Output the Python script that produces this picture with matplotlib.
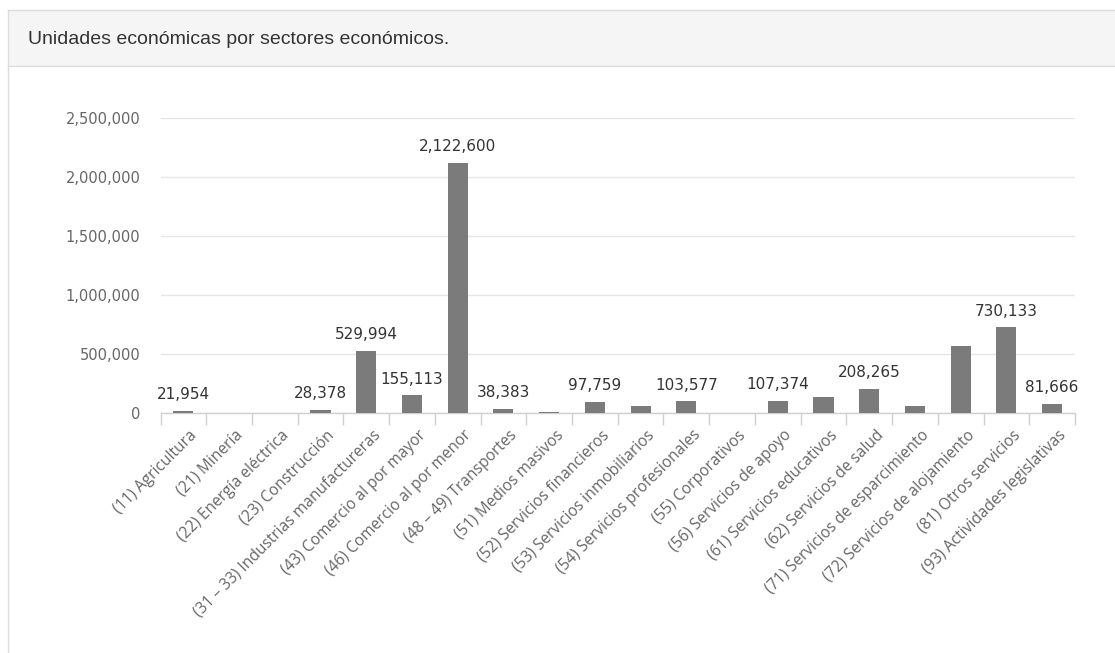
import matplotlib
matplotlib.use("Agg")
import matplotlib.pyplot as plt
from matplotlib.patches import Rectangle
from matplotlib.lines import Line2D
from matplotlib.ticker import FuncFormatter, FixedLocator
from matplotlib.transforms import ScaledTranslation
import numpy as np

title = "Unidades económicas por sectores económicos."
categories = [
    "(11) Agricultura", "(21) Minería", "(22) Energía eléctrica", "(23) Construcción",
    "(31 – 33) Industrias manufactureras", "(43) Comercio al por mayor",
    "(46) Comercio al por menor", "(48 – 49) Transportes", "(51) Medios masivos",
    "(52) Servicios financieros", "(53) Servicios inmobiliarios",
    "(54) Servicios profesionales", "(55) Corporativos", "(56) Servicios de apoyo",
    "(61) Servicios educativos", "(62) Servicios de salud",
    "(71) Servicios de esparcimiento", "(72) Servicios de alojamiento",
    "(81) Otros servicios", "(93) Actividades legislativas",
]
values = [21954, 3000, 1200, 28378, 529994, 155113, 2122600, 38383, 10000, 97759,
          65000, 103577, 500, 107374, 138000, 208265, 65000, 570000, 730133, 81666]
show_label = [True, False, False, True, True, True, True, True, False, True,
              False, True, False, True, False, True, False, False, True, True]
yticks = [0, 500000, 1000000, 1500000, 2000000, 2500000]

W, H = 1115, 653
fig = plt.figure(figsize=(W / 100, H / 100), dpi=100)
fig.patch.set_facecolor("white")

def fx(px):
    return px / W

def fy(py):
    return 1 - py / H

# panel header
fig.add_artist(Rectangle((fx(7.5), fy(65.5)), fx(1200), 55.5 / H, transform=fig.transFigure,
                         facecolor="#f5f5f5", edgecolor="none", zorder=0))
fig.add_artist(Line2D([fx(7.5), 1.0], [fy(10), fy(10)], transform=fig.transFigure,
                      color="#dddddd", lw=1))
fig.add_artist(Line2D([fx(7.5), 1.0], [fy(65.5), fy(65.5)], transform=fig.transFigure,
                      color="#dddddd", lw=1))
fig.add_artist(Line2D([fx(7.5), fx(7.5)], [fy(10), 0], transform=fig.transFigure,
                      color="#dddddd", lw=1))
fig.text(fx(28.5), fy(39), title, fontsize=14, color="#333333",
         family="Liberation Sans", va="center", ha="left")

ax = fig.add_axes([fx(160.5), fy(413.3), fx(1075) - fx(160.5), (413.3 - 118) / H])
x = np.arange(len(categories))
ax.bar(x, values, width=0.44, color="#7b7b7b", zorder=3)
ax.set_xlim(-0.5, len(categories) - 0.5)
ax.set_ylim(0, 2500000)

for s in ["top", "right", "left"]:
    ax.spines[s].set_visible(False)
ax.spines["bottom"].set_color("#d0d0d0")
ax.spines["bottom"].set_linewidth(1)

ax.yaxis.set_major_locator(FixedLocator(yticks))
ax.yaxis.set_major_formatter(FuncFormatter(lambda v, p: f"{int(v):,}"))
ax.tick_params(axis="y", length=0, pad=14.5, labelsize=10.5, labelcolor="#666666")
for lbl in ax.get_yticklabels():
    lbl.set_family("DejaVu Sans")
ax.grid(axis="y", color="#e6e6e6", lw=1, zorder=0)
ax.set_axisbelow(True)

ax.set_xticks(x)
ax.set_xticklabels(categories, rotation=45, ha="right", va="top",
                   rotation_mode="anchor", fontsize=11.2, color="#666666",
                   family="Open Sans")
ax.tick_params(axis="x", length=0, pad=10)
shift = ScaledTranslation(6 / 100, 0, fig.dpi_scale_trans)
for lbl in ax.get_xticklabels():
    lbl.set_transform(lbl.get_transform() + shift)
# boundary tick marks
ax.set_xticks(np.arange(-0.5, len(categories)), minor=True)
ax.tick_params(axis="x", which="minor", length=8.5, width=1, color="#d0d0d0")

for xi, v, sl in zip(x, values, show_label):
    if sl:
        ax.annotate(f"{v:,}", (xi, v), xytext=(0, 11.5), textcoords="offset points",
                    ha="center", va="center", fontsize=11, color="#333333",
                    family="DejaVu Sans", zorder=5)

fig.savefig("out.png", dpi=100)
